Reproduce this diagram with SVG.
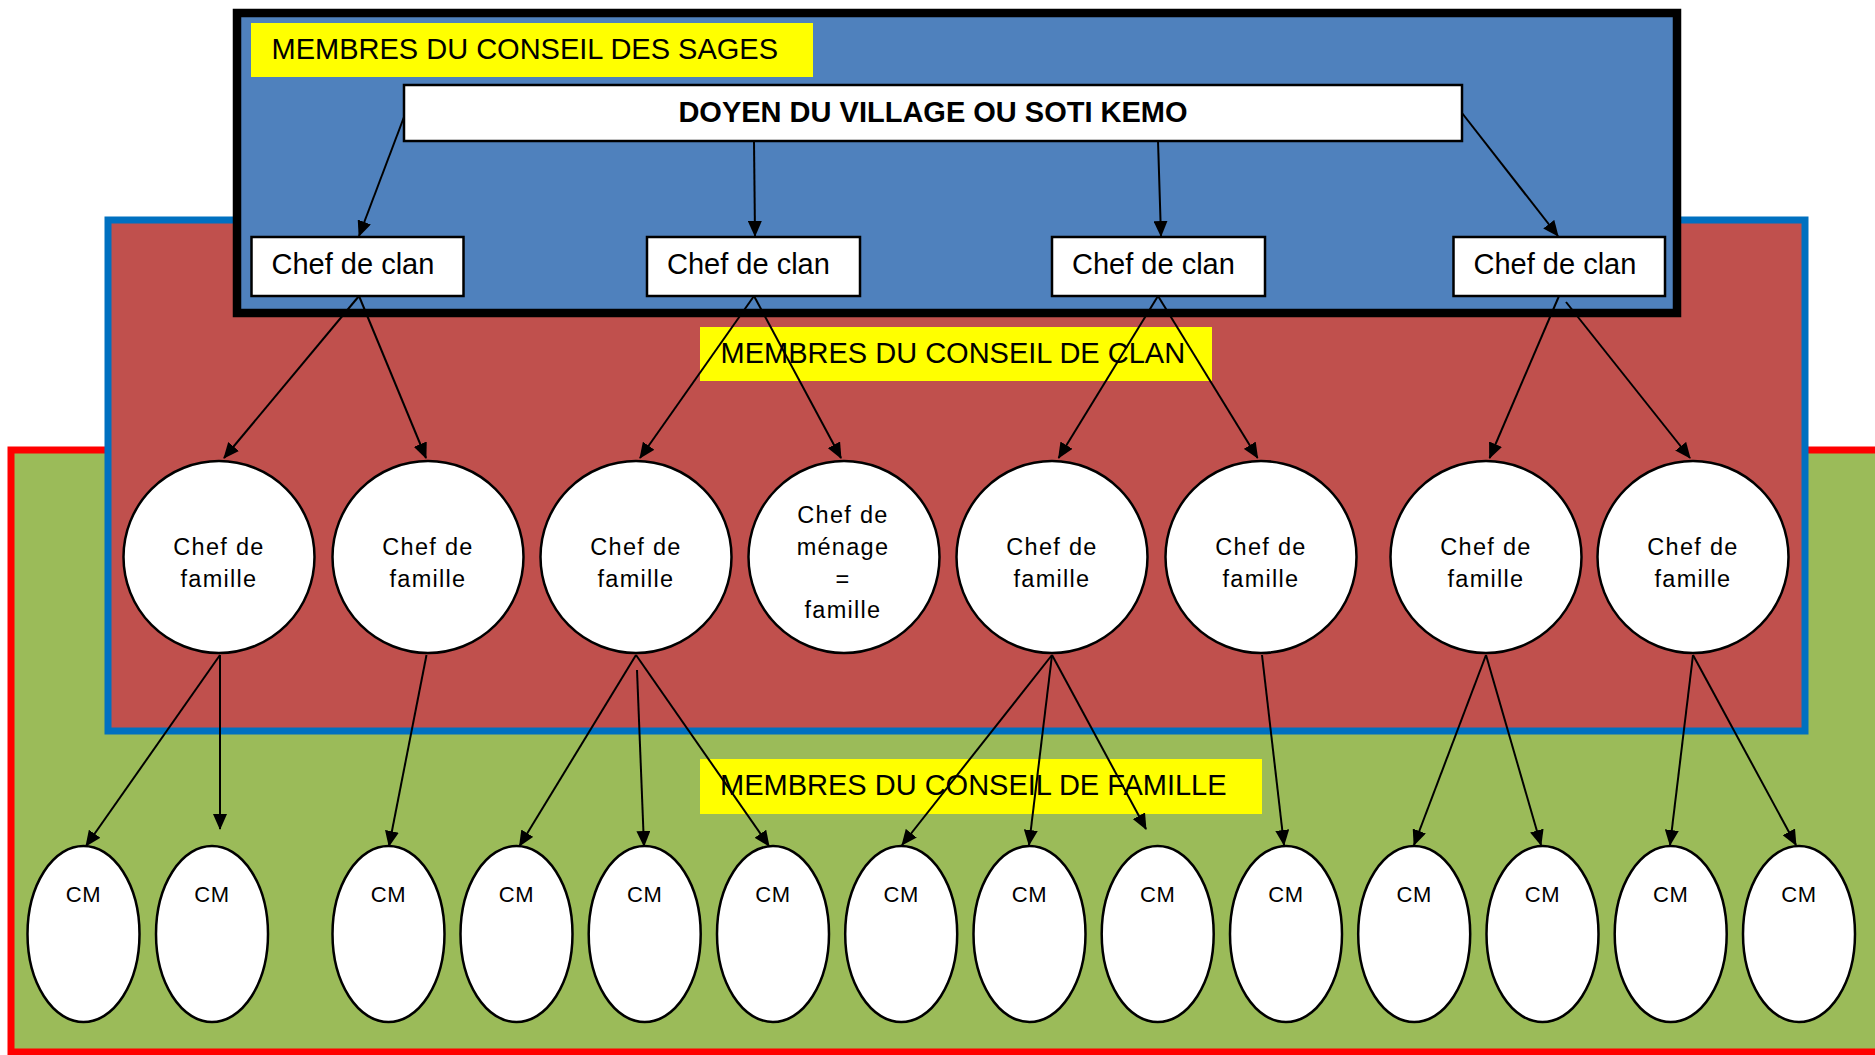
<svg xmlns="http://www.w3.org/2000/svg" width="1875" height="1055" viewBox="0 0 1875 1055">
<style>
text{font-family:"Liberation Sans",Arial,sans-serif;fill:#000}
.lbl{font-size:29px}
.clan{font-size:29px}
.fam{font-size:23.5px;letter-spacing:1.3px;text-anchor:middle}
.cm{font-size:22px;letter-spacing:0.6px;text-anchor:middle}
.box{fill:#fff;stroke:#000;stroke-width:2.5}
.yel{fill:#FFFF00}
.conn line{stroke:#000;stroke-width:2;marker-end:url(#ah)}
</style>
<defs>
<marker id="ah" markerUnits="userSpaceOnUse" markerWidth="16" markerHeight="14" refX="15" refY="7" orient="auto">
<path d="M0,0 L16,7 L0,14 z" fill="#000"/>
</marker>
</defs>
<rect width="1875" height="1055" fill="#fff"/>
<g id="zone-famille">
<rect x="11" y="450" width="1880" height="602" fill="#9BBB59" stroke="#F00" stroke-width="7"/>
</g>
<g id="zone-clan">
<rect x="111" y="223" width="1697" height="511" fill="#000" opacity="0.3"/>
<rect x="108" y="220" width="1697" height="511" fill="#C0504D" stroke="#0070C0" stroke-width="7"/>
</g>
<g id="zone-sages">
<rect x="241" y="17" width="1439" height="300" fill="#000" opacity="0.3"/>
<rect x="237" y="13" width="1440" height="300" fill="#4F81BD" stroke="#000" stroke-width="8.5"/>
</g>
<g id="label-sages"><rect class="yel" x="251" y="23" width="562" height="54"/><text class="lbl" x="271.5" y="59">MEMBRES DU CONSEIL DES SAGES</text></g>
<g id="label-clan"><rect class="yel" x="700" y="327" width="512" height="54"/><text class="lbl" x="720.5" y="363">MEMBRES DU CONSEIL DE CLAN</text></g>
<g id="label-famille"><rect class="yel" x="700" y="759" width="562" height="55"/><text class="lbl" x="720" y="795">MEMBRES DU CONSEIL DE FAMILLE</text></g>
<g id="doyen"><rect class="box" x="404" y="85" width="1058" height="56"/><text x="933" y="122" font-size="29" font-weight="bold" text-anchor="middle">DOYEN DU VILLAGE OU SOTI KEMO</text></g>
<g id="clan1"><rect class="box" x="251.5" y="237" width="212" height="59"/><text class="clan" x="271.5" y="274">Chef de clan</text></g>
<g id="clan2"><rect class="box" x="647" y="237" width="213" height="59"/><text class="clan" x="667" y="274">Chef de clan</text></g>
<g id="clan3"><rect class="box" x="1052" y="237" width="213" height="59"/><text class="clan" x="1072" y="274">Chef de clan</text></g>
<g id="clan4"><rect class="box" x="1453.5" y="237" width="211.5" height="59"/><text class="clan" x="1473.5" y="274">Chef de clan</text></g>
<g id="fam1"><ellipse class="box" cx="219" cy="557" rx="95.5" ry="96"/><text class="fam" x="219" y="555">Chef de</text><text class="fam" x="219" y="587">famille</text></g>
<g id="fam2"><ellipse class="box" cx="428" cy="557" rx="95.5" ry="96"/><text class="fam" x="428" y="555">Chef de</text><text class="fam" x="428" y="587">famille</text></g>
<g id="fam3"><ellipse class="box" cx="636" cy="557" rx="95.5" ry="96"/><text class="fam" x="636" y="555">Chef de</text><text class="fam" x="636" y="587">famille</text></g>
<g id="fam4"><ellipse class="box" cx="844" cy="557" rx="95.5" ry="96"/><text class="fam" x="843" y="523">Chef de</text><text class="fam" x="843" y="555">ménage</text><text class="fam" x="843" y="587">=</text><text class="fam" x="843" y="618">famille</text></g>
<g id="fam5"><ellipse class="box" cx="1052" cy="557" rx="95.5" ry="96"/><text class="fam" x="1052" y="555">Chef de</text><text class="fam" x="1052" y="587">famille</text></g>
<g id="fam6"><ellipse class="box" cx="1261" cy="557" rx="95.5" ry="96"/><text class="fam" x="1261" y="555">Chef de</text><text class="fam" x="1261" y="587">famille</text></g>
<g id="fam7"><ellipse class="box" cx="1486" cy="557" rx="95.5" ry="96"/><text class="fam" x="1486" y="555">Chef de</text><text class="fam" x="1486" y="587">famille</text></g>
<g id="fam8"><ellipse class="box" cx="1693" cy="557" rx="95.5" ry="96"/><text class="fam" x="1693" y="555">Chef de</text><text class="fam" x="1693" y="587">famille</text></g>
<g id="cm1"><ellipse class="box" cx="83.5" cy="934" rx="56" ry="88"/><text class="cm" x="83.5" y="902">CM</text></g>
<g id="cm2"><ellipse class="box" cx="212" cy="934" rx="56" ry="88"/><text class="cm" x="212" y="902">CM</text></g>
<g id="cm3"><ellipse class="box" cx="388.5" cy="934" rx="56" ry="88"/><text class="cm" x="388.5" y="902">CM</text></g>
<g id="cm4"><ellipse class="box" cx="516.5" cy="934" rx="56" ry="88"/><text class="cm" x="516.5" y="902">CM</text></g>
<g id="cm5"><ellipse class="box" cx="644.7" cy="934" rx="56" ry="88"/><text class="cm" x="644.7" y="902">CM</text></g>
<g id="cm6"><ellipse class="box" cx="773" cy="934" rx="56" ry="88"/><text class="cm" x="773" y="902">CM</text></g>
<g id="cm7"><ellipse class="box" cx="901.2" cy="934" rx="56" ry="88"/><text class="cm" x="901.2" y="902">CM</text></g>
<g id="cm8"><ellipse class="box" cx="1029.5" cy="934" rx="56" ry="88"/><text class="cm" x="1029.5" y="902">CM</text></g>
<g id="cm9"><ellipse class="box" cx="1157.7" cy="934" rx="56" ry="88"/><text class="cm" x="1157.7" y="902">CM</text></g>
<g id="cm10"><ellipse class="box" cx="1286" cy="934" rx="56" ry="88"/><text class="cm" x="1286" y="902">CM</text></g>
<g id="cm11"><ellipse class="box" cx="1414.2" cy="934" rx="56" ry="88"/><text class="cm" x="1414.2" y="902">CM</text></g>
<g id="cm12"><ellipse class="box" cx="1542.5" cy="934" rx="56" ry="88"/><text class="cm" x="1542.5" y="902">CM</text></g>
<g id="cm13"><ellipse class="box" cx="1670.7" cy="934" rx="56" ry="88"/><text class="cm" x="1670.7" y="902">CM</text></g>
<g id="cm14"><ellipse class="box" cx="1799" cy="934" rx="56" ry="88"/><text class="cm" x="1799" y="902">CM</text></g>
<g id="connectors" class="conn">
<line x1="404" y1="117" x2="359" y2="236"/>
<line x1="754" y1="141" x2="755" y2="236"/>
<line x1="1158" y1="141" x2="1161" y2="236"/>
<line x1="1462" y1="113" x2="1558" y2="236"/>
<line x1="359" y1="296" x2="224" y2="458"/>
<line x1="359" y1="296" x2="426" y2="458"/>
<line x1="754" y1="296" x2="640" y2="458"/>
<line x1="754" y1="296" x2="841" y2="458"/>
<line x1="1158" y1="296" x2="1058.6" y2="458"/>
<line x1="1158" y1="296" x2="1257.6" y2="458"/>
<line x1="1559" y1="296" x2="1489.6" y2="458"/>
<line x1="1566" y1="302" x2="1690" y2="458"/>
<line x1="220" y1="655" x2="86" y2="846"/>
<line x1="220" y1="655" x2="220" y2="829"/>
<line x1="426.5" y1="655" x2="389" y2="846"/>
<line x1="636" y1="655" x2="519.5" y2="846"/>
<line x1="637" y1="670" x2="644" y2="846"/>
<line x1="636" y1="655" x2="769" y2="846"/>
<line x1="1052" y1="655" x2="902" y2="845"/>
<line x1="1052" y1="655" x2="1029" y2="845"/>
<line x1="1052" y1="655" x2="1146" y2="829"/>
<line x1="1262" y1="655" x2="1284" y2="845"/>
<line x1="1486" y1="655" x2="1414" y2="845"/>
<line x1="1486" y1="655" x2="1541" y2="845"/>
<line x1="1693" y1="655" x2="1670" y2="845"/>
<line x1="1693" y1="655" x2="1796" y2="845"/>
</g>
</svg>
